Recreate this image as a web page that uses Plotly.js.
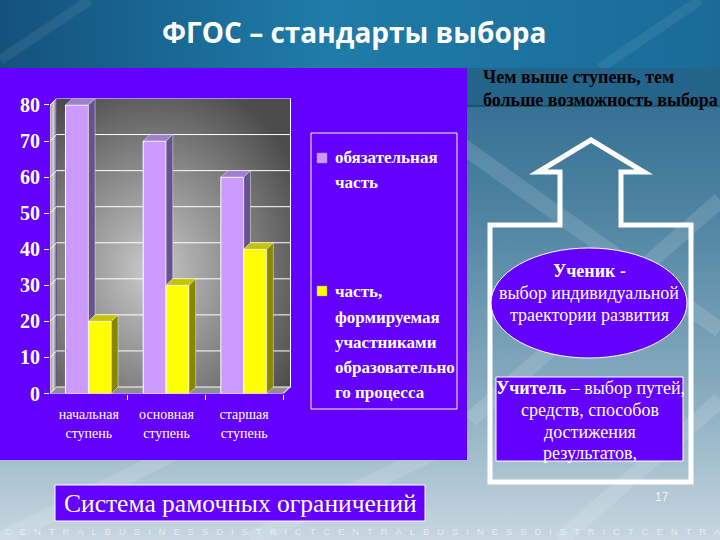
<!DOCTYPE html>
<html><head><meta charset="utf-8">
<script src="https://cdn.plot.ly/plotly-3.0.1.min.js"></script>
<style>html,body{margin:0;padding:0;background:#7fa6bb;overflow:hidden;} #chart{width:720px;height:540px;}</style>
</head><body><div id="chart"></div>
<script>
// ---------- data ----------
const categories = ['начальная<br>ступень', 'основная<br>ступень', 'старшая<br>ступень'];
const mandatoryPart = [80, 70, 60];
const formedPart = [20, 30, 40];
const seriesNames = ['обязательная часть', 'часть, формируемая участниками образовательного процесса'];
const legendLines1 = ['обязательная', 'часть'];
const legendLines2 = ['часть,', 'формируемая', 'участниками', 'образовательно', 'го процесса'];
const yTicks = [0, 10, 20, 30, 40, 50, 60, 70, 80];
const pageTitle = 'ФГОС – стандарты выбора';
const noteLines = ['Чем выше ступень, тем', 'больше возможность выбора'];
const pupilLines = ['<b>Ученик -</b>', 'выбор индивидуальной', 'траектории развития'];
const teacherLines = ['<b>Учитель</b> – выбор путей,', 'средств, способов', 'достижения', 'результатов,'];
const footerBox = 'Система рамочных ограничений';
const pageNumber = '17';
const bandWord = 'CENTRALBUSINESSDISTRICT';

// ---------- geometry helpers ----------
const W = 720, H = 540;
const px = x => x / W;
const py = y => 1 - y / H;
const xDomain = [px(50), px(291)];
const yDomain = [py(393.5), py(98.5)];
const xRange = [-0.5, 2.603];
const yRange = [0, 81.8];
const DX = 0.086, DY = 1.8;       // 3-D depth in axis units
const barW = 0.295;
const offP = -0.3, offY = -0.005;

const purple = '#cc99ff', yellow = '#ffff00', panel = '#6300ff';
const serif = 'Liberation Serif, Times New Roman, serif';

// ---------- 3D faces built from data ----------
function addPoly(arr, pts) {
  pts.forEach(p => { arr.x.push(p[0]); arr.y.push(p[1]); });
  arr.x.push(pts[0][0]); arr.y.push(pts[0][1]);
  arr.x.push(null); arr.y.push(null);
}
const pTop = {x: [], y: []}, pSide = {x: [], y: []}, yTop = {x: [], y: []}, ySide = {x: [], y: []};
categories.forEach((c, i) => {
  const v = mandatoryPart[i], u = formedPart[i];
  const xl = i + offP, xr = xl + barW;
  const xl2 = i + offY, xr2 = xl2 + barW;
  addPoly(pTop, [[xl, v], [xl + DX, v + DY], [xr + DX, v + DY], [xr, v]]);
  addPoly(pSide, [[xr, u], [xr + DX, u + DY], [xr + DX, v + DY], [xr, v]]);
  addPoly(yTop, [[xl2, u], [xl2 + DX, u + DY], [xr2 + DX, u + DY], [xr2, u]]);
  addPoly(ySide, [[xr2, 0], [xr2 + DX, DY], [xr2 + DX, u + DY], [xr2, u]]);
});
function face(d, color) {
  return {type: 'scatter', mode: 'lines', x: d.x, y: d.y, fill: 'toself', fillcolor: color,
    line: {color: 'rgba(255,255,255,0.55)', width: 0.8}, hoverinfo: 'skip', showlegend: false};
}

const catIdx = categories.map((c, i) => i);
const traces = [
  {type: 'bar', name: seriesNames[0], x: catIdx, y: mandatoryPart, width: barW, offset: offP,
   marker: {color: purple, line: {color: '#ffffff', width: 1}}, showlegend: false},
  {type: 'bar', name: seriesNames[1], x: catIdx, y: formedPart, width: barW, offset: offY,
   marker: {color: yellow, line: {color: '#ffffff', width: 1}}, showlegend: false},
  face(pTop, '#9c82cc'), face(pSide, '#65528f'), face(yTop, '#c4c400'), face(ySide, '#878700')
];

// ---------- background images ----------
const bgSvg = `<svg xmlns="http://www.w3.org/2000/svg" width="720" height="540" viewBox="0 0 720 540" preserveAspectRatio="none">
<defs>
<linearGradient id="body" gradientUnits="userSpaceOnUse" x1="0" y1="68" x2="0" y2="540">
<stop offset="0" stop-color="#2e6a8f"/><stop offset="0.3" stop-color="#4d83a1"/>
<stop offset="0.7" stop-color="#8aadc1"/><stop offset="1" stop-color="#c8d7e0"/></linearGradient>
<linearGradient id="head" x1="0" y1="0" x2="1" y2="0">
<stop offset="0" stop-color="#14527c"/><stop offset="0.45" stop-color="#1f7ba9"/><stop offset="1" stop-color="#1a6b98"/></linearGradient>
</defs>
<rect width="720" height="540" fill="url(#body)"/>
<g stroke="#ffffff" stroke-opacity="0.13" stroke-width="16" fill="none">
<line x1="440" y1="130" x2="720" y2="330"/><line x1="470" y1="420" x2="720" y2="200"/>
<line x1="560" y1="540" x2="720" y2="400"/><line x1="0" y1="540" x2="200" y2="440"/>
<line x1="250" y1="540" x2="460" y2="440"/></g>
<rect width="720" height="68" fill="url(#head)"/>
<g stroke="#ffffff" stroke-opacity="0.07" stroke-width="10"><line x1="0" y1="60" x2="90" y2="0"/><line x1="600" y1="68" x2="700" y2="0"/></g>
<rect x="467" y="68" width="253" height="38" fill="#24638a"/>
<line x1="467" y1="106" x2="720" y2="106" stroke="#1a4963" stroke-width="1.5"/>
<rect x="0" y="68" width="467" height="392" fill="${panel}"/>
</svg>`;
const wallSvg = `<svg xmlns="http://www.w3.org/2000/svg" width="241" height="295" viewBox="0 0 241 295" preserveAspectRatio="none">
<defs>
<radialGradient id="g" cx="0.42" cy="0.6" r="0.7" fx="0.4" fy="0.6">
<stop offset="0" stop-color="#cacaca"/><stop offset="0.5" stop-color="#8c8c8c"/><stop offset="1" stop-color="#4c4c4c"/></radialGradient>
<linearGradient id="lw" x1="0" y1="0" x2="1" y2="0">
<stop offset="0" stop-color="#8a8a8a"/><stop offset="0.5" stop-color="#d6d6d6"/><stop offset="1" stop-color="#666666"/></linearGradient>
</defs>
<rect x="6.7" y="0" width="234.3" height="288.5" fill="url(#g)"/>
<polygon points="0,6.5 6.7,0 6.7,288.5 0,295" fill="url(#lw)"/>
<polygon points="0,295 6.7,288.5 241,288.5 234.3,295" fill="#8e8e8e"/>
</svg>`;
const uri = s => 'data:image/svg+xml;charset=utf-8,' + encodeURIComponent(s);

// ---------- shapes ----------
const shapes = [];
const white = {color: '#ffffff', width: 1};
yTicks.forEach(v => {
  shapes.push({type: 'line', xref: 'x', yref: 'y', x0: xRange[0], y0: v, x1: xRange[0] + DX, y1: v + DY, line: white, layer: 'below'});
  shapes.push({type: 'line', xref: 'x', yref: 'y', x0: xRange[0] + DX, y0: v + DY, x1: xRange[1], y1: v + DY, line: white, layer: 'below'});
});
const lastEdge = categories.length - 0.5;
shapes.push({type: 'line', xref: 'x', yref: 'y', x0: xRange[0], y0: 0, x1: lastEdge, y1: 0, line: white, layer: 'below'});
shapes.push({type: 'line', xref: 'x', yref: 'y', x0: lastEdge, y0: 0, x1: lastEdge + DX, y1: DY, line: white, layer: 'below'});
shapes.push({type: 'line', xref: 'x', yref: 'y', x0: xRange[0], y0: 0, x1: xRange[0], y1: yTicks[yTicks.length - 1], line: white, layer: 'below'});
shapes.push({type: 'line', xref: 'x', yref: 'y', x0: xRange[1] - 0.006, y0: DY, x1: xRange[1] - 0.006, y1: yTicks[yTicks.length - 1] + DY, line: white, layer: 'below'});

const P = (x, y) => px(x).toFixed(5) + ',' + py(y).toFixed(5);
// arrow frame
const framePts = [[591, 140], [644, 172], [621, 172], [621, 225], [691, 225], [691, 482], [490, 482], [490, 225], [560, 225], [560, 172], [538, 172]];
shapes.push({type: 'path', xref: 'paper', yref: 'paper', path: 'M' + framePts.map(p => P(p[0], p[1])).join('L') + 'Z',
  line: {color: '#ffffff', width: 5}, fillcolor: 'rgba(0,0,0,0)', layer: 'above'});
// ellipse and teacher box
shapes.push({type: 'circle', xref: 'paper', yref: 'paper', x0: px(491), x1: px(687), y0: py(358), y1: py(248),
  fillcolor: panel, line: white, layer: 'above'});
shapes.push({type: 'rect', xref: 'paper', yref: 'paper', x0: px(496), x1: px(683), y0: py(461), y1: py(377),
  fillcolor: panel, line: white, layer: 'above'});
// footer box
shapes.push({type: 'rect', xref: 'paper', yref: 'paper', x0: px(55), x1: px(425), y0: py(521), y1: py(485),
  fillcolor: panel, line: white, layer: 'above'});
// legend box and markers
shapes.push({type: 'rect', xref: 'paper', yref: 'paper', x0: px(311), x1: px(457), y0: py(409), y1: py(133),
  fillcolor: 'rgba(0,0,0,0)', line: white, layer: 'above'});
shapes.push({type: 'rect', xref: 'paper', yref: 'paper', x0: px(317), x1: px(327), y0: py(163), y1: py(153),
  fillcolor: purple, line: {color: '#999999', width: 0.5}, layer: 'above'});
shapes.push({type: 'rect', xref: 'paper', yref: 'paper', x0: px(317), x1: px(327), y0: py(296), y1: py(286),
  fillcolor: yellow, line: {color: '#999999', width: 0.5}, layer: 'above'});

// ---------- annotations ----------
const ann = [];
function txt(text, x, y, opts) {
  ann.push(Object.assign({text: text, x: px(x), y: py(y), xref: 'paper', yref: 'paper', showarrow: false,
    xanchor: 'center', yanchor: 'middle', font: {family: serif, size: 18, color: '#ffffff'}}, opts || {}));
}
txt('<b>' + pageTitle + '</b>', 354, 32, {font: {family: 'Open Sans, sans-serif', size: 28, color: '#ffffff'}});
const legendY1 = [158, 182], legendY2 = [291, 317, 342, 367, 392];
legendLines1.forEach((t, i) => txt('<b>' + t + '</b>', 333, legendY1[i], {xanchor: 'left', font: {family: serif, size: 17, color: '#ffffff'}}));
legendLines2.forEach((t, i) => txt('<b>' + t + '</b>', 333, legendY2[i], {xanchor: 'left', font: {family: serif, size: 17, color: '#ffffff'}}));
const noteY = [77, 100];
noteLines.forEach((t, i) => txt('<b>' + t + '</b>', 481, noteY[i], {xanchor: 'left', font: {family: serif, size: 18, color: '#000000'}}));
const pupilY = [271, 293, 315];
pupilLines.forEach((t, i) => txt(t, 589, pupilY[i]));
const teacherY = [388, 410, 432, 453];
teacherLines.forEach((t, i) => txt(t, 590, teacherY[i]));
txt(footerBox, 240, 503, {font: {family: serif, size: 25.5, color: '#ffffff'}});
txt(pageNumber, 662, 497, {font: {family: 'Liberation Sans, Arial, sans-serif', size: 12, color: '#eef3f6'}});
const band = (bandWord + bandWord + bandWord).slice(0, 52).split('').join('\u00a0\u00a0\u00a0');
txt(band, 3, 531, {xanchor: 'left', font: {family: 'Liberation Sans, Arial, sans-serif', size: 9.5, color: 'rgba(255,255,255,0.6)'}});

// ---------- layout ----------
const layout = {
  width: W, height: H,
  margin: {l: 0, r: 0, t: 0, b: 0, pad: 0},
  paper_bgcolor: 'rgba(0,0,0,0)', plot_bgcolor: 'rgba(0,0,0,0)',
  barmode: 'overlay', showlegend: false,
  xaxis: {domain: xDomain, range: xRange, showgrid: false, zeroline: false, showline: false, automargin: false,
    tickmode: 'array', tickvals: catIdx, ticktext: categories, ticks: 'outside', ticklen: 8, tickcolor: 'rgba(0,0,0,0)',
    tickfont: {family: serif, size: 14, color: '#ffffff'},
    minor: {tickmode: 'array', tickvals: [0.5, 1.5, 2.5], ticks: 'outside', ticklen: 5, tickcolor: '#ffffff', showgrid: false},
    fixedrange: true},
  yaxis: {domain: yDomain, range: yRange, showgrid: false, zeroline: false, showline: false, automargin: false,
    tickmode: 'array', tickvals: yTicks, ticks: 'outside', ticklen: 5, tickcolor: '#ffffff',
    tickfont: {family: serif, size: 20, color: '#ffffff', weight: 'bold'}, fixedrange: true},
  images: [
    {source: uri(bgSvg), xref: 'paper', yref: 'paper', x: 0, y: 1, sizex: 1, sizey: 1, xanchor: 'left', yanchor: 'top', sizing: 'stretch', layer: 'below'},
    {source: uri(wallSvg), xref: 'paper', yref: 'paper', x: xDomain[0], y: yDomain[1], sizex: xDomain[1] - xDomain[0], sizey: yDomain[1] - yDomain[0], xanchor: 'left', yanchor: 'top', sizing: 'stretch', layer: 'below'}
  ],
  shapes: shapes,
  annotations: ann
};
Plotly.newPlot('chart', traces, layout, {displayModeBar: false, staticPlot: true});
</script>
</body></html>
